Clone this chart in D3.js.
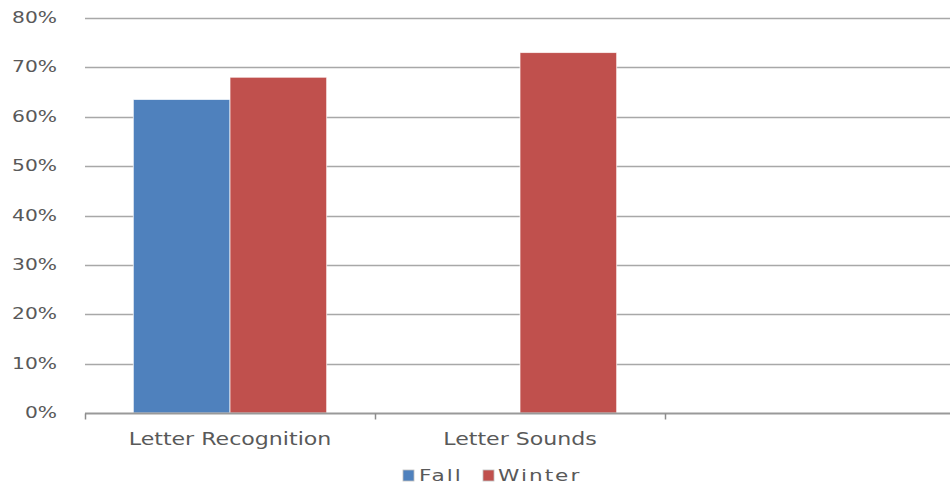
<!DOCTYPE html>
<html>
<head>
<meta charset="utf-8">
<script src="https://cdn.jsdelivr.net/npm/d3@7"></script>
<style>
  html, body { margin: 0; padding: 0; background: #fff; }
  svg { display: block; }
  text { font-family: "DejaVu Sans", Verdana, sans-serif; fill: #595959; }
</style>
</head>
<body>
<svg id="chart" width="950" height="487"></svg>
<script>
// Skill assessment results, percent of students at benchmark
const categories = ["Letter Recognition", "Letter Sounds", ""];
const seriesNames = ["Fall", "Winter"];
const fallValues = [63.5, null, null];
const winterValues = [68, 73, null];
const seriesColors = ["#4F81BD", "#C0504D"];
const yTicks = [0, 10, 20, 30, 40, 50, 60, 70, 80];

const svg = d3.select("#chart");
const stretch = 1.35; // wide lettering

const x = d3.scaleBand().domain(categories).range([85, 955]).paddingInner(0).paddingOuter(0);
const x1 = d3.scaleBand().domain(seriesNames).range([0, x.bandwidth()]).paddingInner(0).paddingOuter(0.5);
const y = d3.scaleLinear().domain([0, 80]).range([413, 18]);

// horizontal gridlines
svg.append("g").selectAll("line").data(yTicks.filter(d => d > 0)).join("line")
  .attr("x1", 85).attr("x2", 955)
  .attr("y1", d => Math.round(y(d)) + 0.5).attr("y2", d => Math.round(y(d)) + 0.5)
  .attr("stroke", "#a8a8a8").attr("stroke-width", 1.6);

// y tick labels
svg.append("g").selectAll("text").data(yTicks).join("text")
  .attr("transform", d => `translate(57,${y(d) + 5}) scale(${stretch},1)`)
  .attr("text-anchor", "end")
  .style("font-size", "15px")
  .text(d => d + "%");

// bars
const rows = categories.map((c, i) => ({ cat: c, values: [fallValues[i], winterValues[i]] }));
const groups = svg.append("g").selectAll("g").data(rows).join("g")
  .attr("transform", d => `translate(${x(d.cat)},0)`);
groups.selectAll("rect")
  .data(d => d.values.map((v, j) => ({ name: seriesNames[j], value: v, color: seriesColors[j] })).filter(e => e.value != null))
  .join("rect")
  .attr("x", d => x1(d.name))
  .attr("width", x1.bandwidth())
  .attr("y", d => y(d.value))
  .attr("height", d => y(0) - y(d.value))
  .attr("fill", d => d.color)
  .attr("stroke", "#ffffff").attr("stroke-opacity", 0.7).attr("stroke-width", 1);

// category axis
const axisY = Math.round(y(0)) + 0.5;
svg.append("line").attr("x1", 85).attr("x2", 955).attr("y1", axisY).attr("y2", axisY)
  .attr("stroke", "#999999").attr("stroke-width", 1.8);
const boundaries = categories.map(c => x(c)).concat([x.range()[1]]);
svg.append("g").selectAll("line").data(boundaries).join("line")
  .attr("x1", d => Math.round(d) + 0.5).attr("x2", d => Math.round(d) + 0.5)
  .attr("y1", axisY).attr("y2", axisY + 6)
  .attr("stroke", "#8c8c8c").attr("stroke-width", 1.5);
svg.append("g").selectAll("text").data(categories.filter(c => c !== "")).join("text")
  .attr("transform", d => `translate(${x(d) + x.bandwidth() / 2},445) scale(1.3,1)`)
  .attr("text-anchor", "middle")
  .style("font-size", "17px")
  .text(d => d);

// legend
const legendItems = [
  { name: seriesNames[0], color: seriesColors[0], sx: 403, tx: 419 },
  { name: seriesNames[1], color: seriesColors[1], sx: 483, tx: 498 }
];
const lg = svg.append("g").selectAll("g").data(legendItems).join("g");
lg.append("rect")
  .attr("x", d => d.sx).attr("y", 470).attr("width", 11).attr("height", 11)
  .attr("fill", d => d.color)
  .attr("stroke", "#bfbfbf").attr("stroke-width", 0.8);
lg.append("text")
  .attr("transform", d => `translate(${d.tx},481) scale(${stretch},1)`)
  .style("font-size", "16px")
  .style("letter-spacing", "1.5px")
  .text(d => d.name);
</script>
</body>
</html>
